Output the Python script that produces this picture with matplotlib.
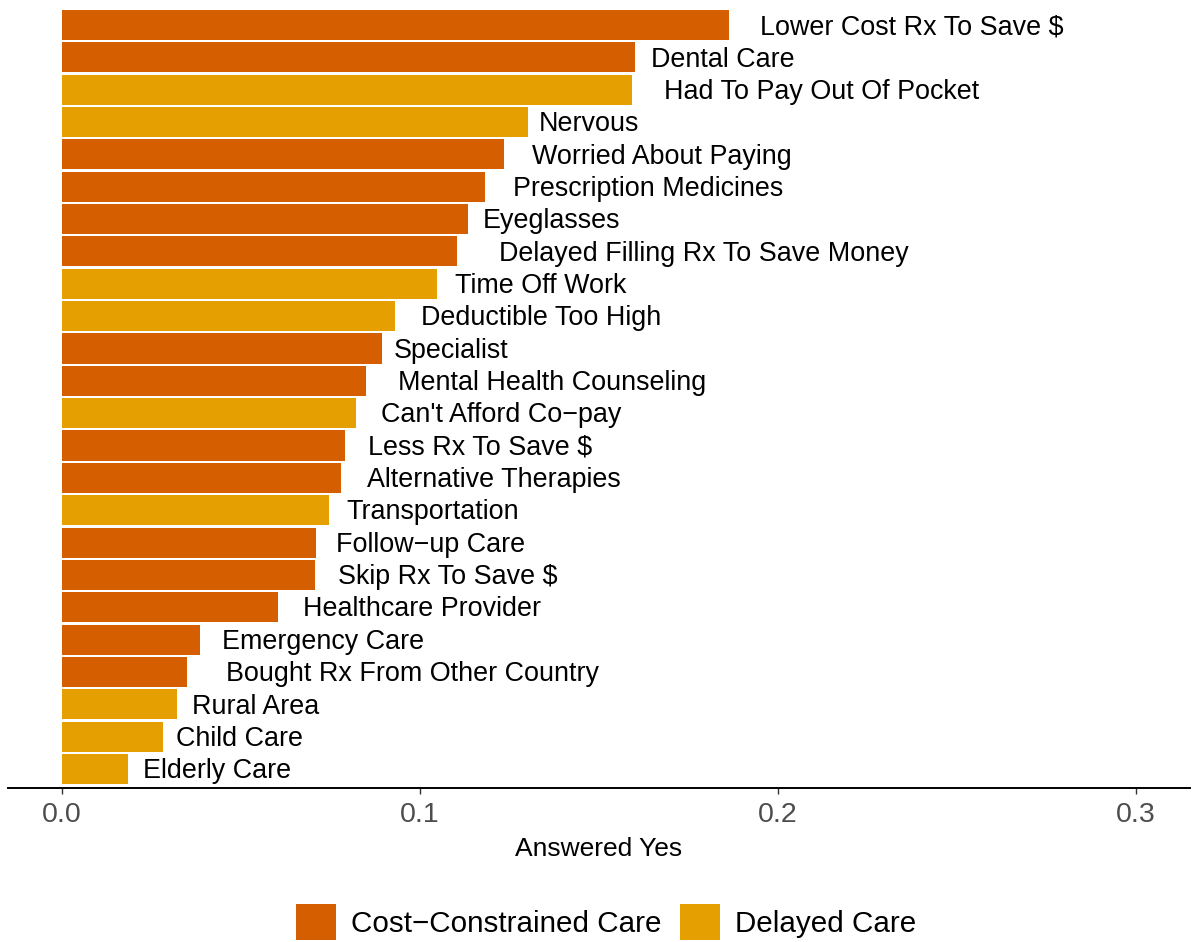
import matplotlib
matplotlib.use("Agg")
import matplotlib.pyplot as plt
from matplotlib.patches import Patch

plt.rcParams['font.family'] = ['Liberation Sans', 'DejaVu Sans']

# survey items, top to bottom as drawn
items = [
    "Lower Cost Rx To Save $", "Dental Care", "Had To Pay Out Of Pocket",
    "Nervous", "Worried About Paying", "Prescription Medicines", "Eyeglasses",
    "Delayed Filling Rx To Save Money", "Time Off Work", "Deductible Too High",
    "Specialist", "Mental Health Counseling", "Can't Afford Co\u2212pay",
    "Less Rx To Save $", "Alternative Therapies", "Transportation",
    "Follow\u2212up Care", "Skip Rx To Save $", "Healthcare Provider",
    "Emergency Care", "Bought Rx From Other Country", "Rural Area",
    "Child Care", "Elderly Care",
]
share_yes = [
    0.1863, 0.1601, 0.1592, 0.1302, 0.1235, 0.1182, 0.1134, 0.1103,
    0.1047, 0.0930, 0.0894, 0.0849, 0.0821, 0.0791, 0.0779, 0.0746,
    0.0709, 0.0707, 0.0603, 0.0385, 0.0349, 0.0321, 0.0282, 0.0184,
]
group = [
    "Cost", "Cost", "Delayed", "Delayed", "Cost", "Cost", "Cost", "Cost",
    "Delayed", "Delayed", "Cost", "Cost", "Delayed", "Cost", "Cost", "Delayed",
    "Cost", "Cost", "Cost", "Cost", "Cost", "Delayed", "Delayed", "Delayed",
]
group_names = {"Cost": "Cost\u2212Constrained Care", "Delayed": "Delayed Care"}
xticks = [0.0, 0.1, 0.2, 0.3]

# label gap from bar end (pixels), repel-style spacing
label_gap = [31, 16, 32, 11, 28, 28, 15, 42, 18, 26, 12, 32,
             25, 23, 26, 17, 20, 23, 25, 22, 39, 15, 13, 15]

colors = {"Cost": "#D55E00", "Delayed": "#E69F00"}

fig = plt.figure(figsize=(11.93, 9.42), dpi=100)
W, H = 1193, 942
ax = fig.add_axes([8.3 / W, 1 - 788.4 / H, (1189.7 - 8.3) / W, (788.4 - 5.6) / H])

n = len(items)
ypos = [n - 1 - i for i in range(n)]
ax.barh(ypos, share_yes, height=0.93, color=[colors[g] for g in group])

for y, v, lab, gap in zip(ypos, share_yes, items, label_gap):
    ax.annotate(lab, (v, y), xytext=(gap * 0.72, -1.6), textcoords="offset points",
                ha="left", va="center", fontsize=19.4, color="black")

ax.set_xlim(-0.015, 0.315)
ax.set_ylim(-0.6, n - 0.4)
ax.set_xticks(xticks)
ax.set_xticklabels([f"{t:.1f}" for t in xticks])
ax.set_yticks([])
for s in ["top", "right", "left"]:
    ax.spines[s].set_visible(False)
ax.spines["bottom"].set_linewidth(1.4)
ax.tick_params(axis="x", length=4, width=1, color="#333333",
               labelcolor="#4D4D4D", labelsize=20.5, pad=5.5)
ax.set_xlabel("Answered Yes", fontsize=19, labelpad=7)

handles = [Patch(facecolor=colors[k], label=group_names[k]) for k in ["Cost", "Delayed"]]
fig.legend(handles=handles, loc="center", bbox_to_anchor=(606 / W, 1 - 922 / H),
           ncol=2, frameon=False, fontsize=21.3, handlelength=1.35, handleheight=1.45,
           handletextpad=0.5, columnspacing=0.62, borderpad=0)

fig.savefig("out.png", dpi=100)
